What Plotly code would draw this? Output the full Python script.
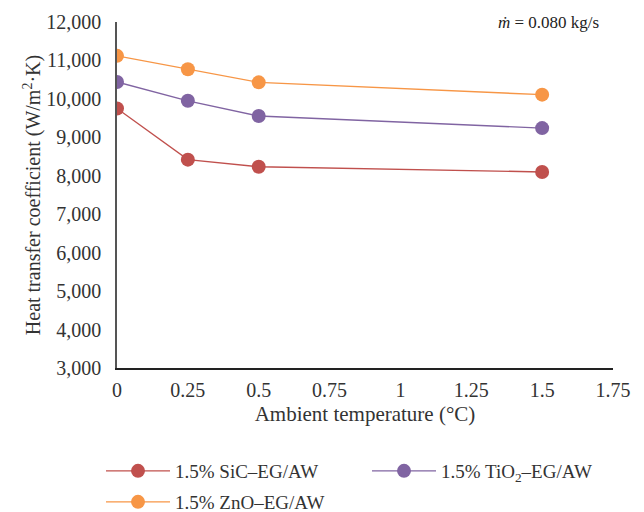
import plotly.graph_objects as go

temps = [0, 0.25, 0.5, 1.5]
sic = [9750, 8420, 8235, 8100]
tio2 = [10440, 9950, 9555, 9240]
zno = [11120, 10770, 10430, 10110]

names = ["1.5% SiC–EG/AW", "1.5% TiO<sub>2</sub>–EG/AW", "1.5% ZnO–EG/AW"]
colors = ["#C0504D", "#8064A2", "#F79646"]
series = [sic, tio2, zno]
legends = ["legend", "legend2", "legend3"]

xticks = [0, 0.25, 0.5, 0.75, 1, 1.25, 1.5, 1.75]
xticklabels = ["0", "0.25", "0.5", "0.75", "1", "1.25", "1.5", "1.75"]
yticks = list(range(3000, 12001, 1000))

font_family = "Liberation Serif, Times New Roman, serif"

# page body has an 8px default margin; figure sized to fit the window
OX, OY = 8, 8
FW, FH = 644 - OX, 512 - OY
# plot area in page pixels: x 117..613, y 22..368
L, R, T, B = 117 - OX, 644 - 613, 22 - OY, 512 - 368
PW, PH = FW - L - R, FH - T - B

fig = go.Figure()
for name, col, vals, lg in zip(names, colors, series, legends):
    fig.add_trace(go.Scatter(
        x=temps, y=vals, name=name, mode="lines+markers",
        line=dict(color=col, width=1.4),
        marker=dict(color=col, size=14),
        legend=lg,
    ))

def leg(xpx, ypx):
    # xpx, ypx in page pixels
    return dict(x=(xpx - OX - L) / PW, xanchor="left",
                y=(FH - B - (ypx - OY)) / PH, yanchor="middle",
                itemwidth=64, borderwidth=0,
                font=dict(size=19, color="#333333"), bgcolor="rgba(0,0,0,0)")

fig.update_layout(
    width=FW, height=FH,
    margin=dict(l=L, r=R, t=T, b=B, autoexpand=False),
    paper_bgcolor="white", plot_bgcolor="white",
    font=dict(family=font_family, size=20, color="#333333"),
    showlegend=True,
    legend=leg(101, 471),
    legend2=leg(367, 471),
    legend3=leg(101, 502),
    xaxis=dict(range=[0, 1.75], tickvals=xticks, ticktext=xticklabels,
               showgrid=False, zeroline=False, showline=True, linecolor="#222222",
               linewidth=1.5, ticks="", tickfont=dict(size=20), ticklabelstandoff=3,
               automargin=False,
               title=dict(text="Ambient temperature (°C)", font=dict(size=21), standoff=7)),
    yaxis=dict(range=[3000, 12000], tickvals=yticks, tickformat=",d",
               showgrid=False, zeroline=False, showline=True, linecolor="#555555",
               linewidth=1.5, ticks="", tickfont=dict(size=20), ticklabelstandoff=10,
               automargin=False,
               title=dict(text="Heat transfer coefficient (W/m<sup>2</sup>·K)", font=dict(size=20), standoff=0)),
    annotations=[dict(text="<i>ṁ</i> = 0.080 kg/s", xref="paper", yref="paper",
                      x=0.976, y=1.0, xanchor="right", yanchor="middle", showarrow=False,
                      font=dict(size=17, color="#222222"))],
)

fig.write_html("out.html")
